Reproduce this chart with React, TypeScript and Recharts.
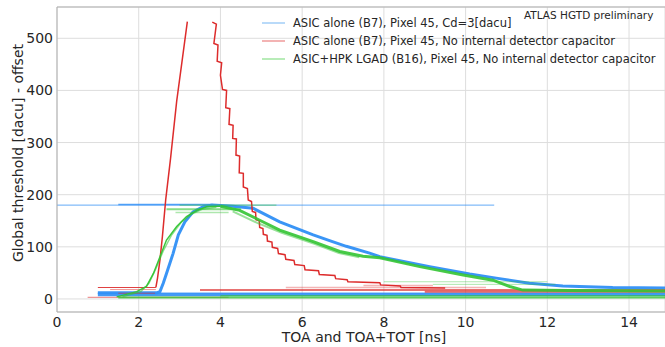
import React from "react";
import { LineChart, Line, XAxis, YAxis, CartesianGrid, ReferenceLine } from "recharts";

// threshold scans: [TOA or TOA+TOT (ns), global threshold (dacu)]
const xTicks = [0, 2, 4, 6, 8, 10, 12, 14];
const yTicks = [0, 100, 200, 300, 400, 500];

const legendLabels = [
  "ASIC alone (B7), Pixel 45, Cd=3[dacu]",
  "ASIC alone (B7), Pixel 45, No internal detector capacitor",
  "ASIC+HPK LGAD (B16), Pixel 45, No internal detector capacitor",
];

const blueTop = [[0, 180], [10.7, 180]];
const blueTopBand = [[1.5, 181], [3.8, 181]];
const blueMain = [
  [1.0, 12], [2.45, 12], [2.52, 14], [2.6, 30], [2.68, 49], [2.84, 87], [2.97, 123],
  [3.13, 148], [3.33, 167], [3.58, 177], [3.8, 180], [4.3, 178], [4.8, 174],
  [5.45, 148], [6.27, 123], [6.67, 112], [7.08, 101], [7.65, 88], [7.9, 81],
  [9.12, 62], [10.1, 48], [10.75, 40], [11.56, 30], [12.38, 25], [13.6, 22], [15, 21],
];
const blueFloor = [[1.0, 8], [15, 8]];
const blueFloor2 = [[1.0, 11], [15, 11]];

const redFloorTop = [[1.0, 22], [2.42, 22]];
const redFloorTop2 = [[1.3, 18], [2.42, 18]];
const redFloorMid = [[1.5, 11], [2.4, 11]];
const redFloorLow = [[0.75, 3], [4.2, 3]];
const redRise = [
  [2.42, 22], [2.46, 40], [2.52, 75], [2.58, 120], [2.66, 190], [2.78, 270],
  [2.93, 380], [3.05, 450], [3.19, 532],
];
const redFall = [
  [3.8, 531], [3.9, 527], [3.84, 490], [3.94, 487], [3.92, 456], [4.03, 453],
  [4.0, 429], [4.05, 402], [4.15, 400], [4.13, 367], [4.23, 365], [4.21, 335],
  [4.31, 333], [4.3, 308], [4.39, 307], [4.38, 276], [4.47, 274], [4.46, 242],
  [4.56, 241], [4.56, 215], [4.66, 212], [4.68, 190], [4.76, 187], [4.78, 168],
  [4.86, 166], [4.87, 152], [4.95, 150], [4.96, 137], [5.04, 135], [5.05, 124],
  [5.14, 122], [5.15, 111], [5.26, 109], [5.27, 99], [5.4, 97], [5.42, 87],
  [5.58, 85], [5.6, 76], [5.8, 74], [5.82, 66], [6.05, 64], [6.07, 56],
  [6.4, 54], [6.42, 47], [6.8, 45], [6.82, 39], [7.1, 37], [7.12, 33],
  [7.9, 31], [7.92, 27], [8.4, 25], [8.42, 22], [9.5, 21],
];
const redTail = [[3.5, 17], [15, 17]];
const redTail2 = [[5.6, 22], [10.5, 22]];
const redTail3 = [[7.5, 26], [9.2, 26]];
const redTail4 = [[9.0, 14], [15, 14]];

const greenFloor = [[1.5, 3], [15, 3]];
const greenFloor2 = [[4.0, 6], [15, 6]];
const greenRise = [
  [1.46, 4], [1.95, 14], [2.19, 24], [2.36, 49], [2.52, 81], [2.68, 113],
  [2.93, 139], [3.17, 158], [3.42, 170], [3.66, 177], [4.0, 178],
];
const greenRise2 = [
  [1.6, 4], [2.05, 14], [2.25, 30], [2.42, 58], [2.6, 92], [2.8, 122],
  [3.05, 148], [3.3, 163], [3.55, 172], [3.9, 176],
];
const greenPlateau = [[2.68, 172], [4.5, 172]];
const greenPlateau2 = [[3.0, 180], [5.37, 180]];
const greenPlateau3 = [[2.9, 166], [4.2, 166]];
const greenFall = [
  [4.0, 178], [4.47, 170], [4.96, 151], [5.45, 132], [6.27, 110], [6.92, 91],
  [7.49, 82], [7.9, 79], [8.88, 62], [9.94, 46], [10.67, 36], [11.08, 24],
  [11.4, 17], [12.54, 16], [15, 15],
];
const greenFall2 = [
  [4.3, 168], [4.9, 146], [5.5, 127], [6.3, 106], [6.9, 88], [7.4, 80],
];
const greenLight = [[8.0, 33], [12.0, 33]];
const greenLight2 = [[9.2, 28], [12.2, 28]];

const BLUE = "#2f8ff5";
const RED = "#dd2c2c";
const GREEN = "#33c433";
const LEGEND_COLORS = ["#b9daf9", "#f3b3b3", "#b8ecb8"];
const TEXT = "#262626";
const FONT = "'DejaVu Sans', sans-serif";

const pts = (arr: number[][]) => arr.map(([x, y]) => ({ x, y }));

type S = { d: number[][]; c: string; w: number; o: number };

const series: S[] = [
  { d: blueTop, c: BLUE, w: 1, o: 0.75 },
  { d: blueTopBand, c: BLUE, w: 1.5, o: 0.8 },
  { d: blueFloor, c: BLUE, w: 3, o: 0.9 },
  { d: blueFloor2, c: BLUE, w: 1.5, o: 0.8 },
  { d: blueMain, c: BLUE, w: 3, o: 0.95 },
  { d: redFloorTop, c: RED, w: 1.2, o: 0.9 },
  { d: redFloorTop2, c: RED, w: 1, o: 0.5 },
  { d: redFloorMid, c: RED, w: 1, o: 0.6 },
  { d: redFloorLow, c: RED, w: 1.2, o: 0.5 },
  { d: redTail, c: RED, w: 1.5, o: 0.9 },
  { d: redTail2, c: RED, w: 1.5, o: 0.35 },
  { d: redTail3, c: RED, w: 1.5, o: 0.35 },
  { d: redTail4, c: RED, w: 2, o: 0.7 },
  { d: redRise, c: RED, w: 1.5, o: 1 },
  { d: redFall, c: RED, w: 1.5, o: 1 },
  { d: greenFloor, c: GREEN, w: 2, o: 0.8 },
  { d: greenFloor2, c: GREEN, w: 1.5, o: 0.6 },
  { d: greenLight, c: GREEN, w: 1, o: 0.4 },
  { d: greenLight2, c: GREEN, w: 1, o: 0.4 },
  { d: greenPlateau, c: GREEN, w: 2, o: 0.6 },
  { d: greenPlateau2, c: GREEN, w: 1, o: 0.6 },
  { d: greenPlateau3, c: GREEN, w: 1.5, o: 0.4 },
  { d: greenRise2, c: GREEN, w: 1.5, o: 0.55 },
  { d: greenRise, c: GREEN, w: 1.5, o: 0.95 },
  { d: greenFall2, c: GREEN, w: 2, o: 0.5 },
  { d: greenFall, c: GREEN, w: 3, o: 0.9 },
];

export default function App() {
  return (
    <div style={{ position: "absolute", left: 0, top: 0, width: 665, height: 347, background: "#fff", fontFamily: FONT }}>
      <LineChart width={665} height={347} margin={{ top: 7, right: 0, bottom: 0, left: 0 }}>
        <CartesianGrid stroke="#dddddd" strokeWidth={1} />
        <XAxis
          dataKey="x"
          type="number"
          domain={[0, 14.88]}
          allowDataOverflow
          ticks={xTicks}
          height={35}
          tickLine={false}
          tickSize={5}
          tickMargin={0}
          axisLine={{ stroke: "#b0b0b0" }}
          tick={{ fill: TEXT, fontSize: 14, fontFamily: FONT }}
        />
        <YAxis
          dataKey="y"
          type="number"
          domain={[-25, 560]}
          allowDataOverflow
          ticks={yTicks}
          width={57}
          tickLine={false}
          tickSize={4}
          tickMargin={0}
          axisLine={{ stroke: "#b0b0b0" }}
          tick={{ fill: TEXT, fontSize: 14, fontFamily: FONT }}
        />
        <ReferenceLine y={560} stroke="#b0b0b0" />
        {series.map((s, i) => (
          <Line
            key={i}
            data={pts(s.d)}
            dataKey="y"
            type="linear"
            stroke={s.c}
            strokeWidth={s.w}
            strokeOpacity={s.o}
            dot={false}
            activeDot={false}
            isAnimationActive={false}
          />
        ))}
      </LineChart>

      <div
        style={{
          position: "absolute",
          left: 18,
          top: 153,
          transform: "translate(-50%, -50%) rotate(-90deg)",
          whiteSpace: "nowrap",
          fontSize: 14,
          color: TEXT,
        }}
      >
        Global threshold [dacu] - offset
      </div>
      <div
        style={{
          position: "absolute",
          left: 364,
          top: 337,
          transform: "translate(-50%, -50%)",
          whiteSpace: "nowrap",
          fontSize: 14,
          color: TEXT,
        }}
      >
        TOA and TOA+TOT [ns]
      </div>

      <div style={{ position: "absolute", left: 524, top: 8, fontSize: 10.5, color: TEXT, whiteSpace: "nowrap", lineHeight: "14px" }}>
        ATLAS HGTD preliminary
      </div>

      {legendLabels.map((lab, i) => (
        <div
          key={lab}
          style={{ position: "absolute", left: 262, top: 23 + i * 18 - 8, height: 16, display: "flex", alignItems: "center", whiteSpace: "nowrap" }}
        >
          <div style={{ width: 23, height: 2, background: LEGEND_COLORS[i], marginRight: 8 }} />
          <span style={{ fontSize: 11.5, color: TEXT }}>{lab}</span>
        </div>
      ))}
    </div>
  );
}
